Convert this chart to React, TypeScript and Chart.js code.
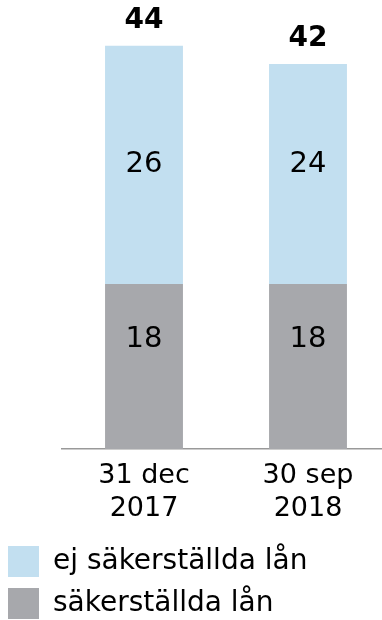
import React, { useEffect, useRef } from "react";
import { Chart, registerables } from "chart.js";

Chart.register(...registerables);

const categories: string[][] = [["31 dec", "2017"], ["30 sep", "2018"]];
const securedLabel = "säkerställda lån";
const unsecuredLabel = "ej säkerställda lån";
const securedValues = [18, 18];
const unsecuredValues = [26, 24];

const FONT = "'DejaVu Sans', Verdana, sans-serif";
const GRAY = "#a7a8ac";
const BLUE = "#c2dff0";

const labelPlugin = {
  id: "barLabels",
  afterDatasetsDraw(chart: any) {
    const ctx = chart.ctx;
    const yScale = chart.scales.y;
    const ds0 = chart.data.datasets[0].data as number[];
    const ds1 = chart.data.datasets[1].data as number[];
    const anchors = [
      Math.max(...ds0) * (2 / 3),
      Math.max(...ds0) + Math.max(...ds1) / 2,
    ];
    ctx.save();
    ctx.textAlign = "center";
    ctx.textBaseline = "middle";
    ctx.fillStyle = "#000";
    chart.data.datasets.forEach((ds: any, di: number) => {
      const meta = chart.getDatasetMeta(di);
      meta.data.forEach((el: any, i: number) => {
        const { x, y } = el.getProps(["x", "y"], true);
        ctx.font = `29px ${FONT}`;
        ctx.fillText(String(ds.data[i]), x, yScale.getPixelForValue(anchors[di]));
        if (di === chart.data.datasets.length - 1) {
          let total = 0;
          chart.data.datasets.forEach((d: any) => (total += d.data[i]));
          ctx.font = `bold 28px ${FONT}`;
          ctx.fillText(String(total), x, y - 25);
        }
      });
    });
    ctx.restore();
  },
};

export default function App() {
  const ref = useRef<HTMLCanvasElement | null>(null);
  useEffect(() => {
    if (!ref.current) return;
    const chart = new Chart(ref.current, {
      type: "bar",
      data: {
        labels: categories,
        datasets: [
          {
            label: securedLabel,
            data: securedValues,
            backgroundColor: GRAY,
            barPercentage: 0.95,
            categoryPercentage: 0.5,
          },
          {
            label: unsecuredLabel,
            data: unsecuredValues,
            backgroundColor: BLUE,
            barPercentage: 0.95,
            categoryPercentage: 0.5,
          },
        ],
      },
      options: {
        animation: false,
        responsive: false,
        devicePixelRatio: 1,
        layout: { padding: { top: 9, left: 0, right: 0, bottom: 0 } },
        plugins: {
          tooltip: { enabled: false },
          legend: {
            position: "bottom",
            align: "start",
            reverse: true,
            labels: {
              boxWidth: 31,
              boxHeight: 31,
              padding: 11,
              color: "#000",
              font: { family: FONT, size: 28 },
            },
          },
        },
        scales: {
          x: {
            stacked: true,
            grid: { display: false, drawTicks: false },
            border: { display: true, color: "#999", width: 1.5 },
            ticks: {
              color: "#000",
              padding: 10,
              font: { family: FONT, size: 27, lineHeight: 1.24 },
            },
            afterFit: (s: any) => {
              s.height = 86;
            },
          },
          y: {
            stacked: true,
            min: 0,
            max: 48,
            grid: { display: false },
            border: { display: false },
            ticks: { display: false },
            afterFit: (s: any) => {
              s.width = 65;
            },
          },
        },
      },
      plugins: [labelPlugin],
    });
    return () => chart.destroy();
  }, []);
  return (
    <div
      style={{
        position: "absolute",
        left: 0,
        top: 0,
        width: 382,
        height: 620,
        overflow: "hidden",
        background: "#fff",
      }}
    >
      <canvas
        ref={ref}
        width={393}
        height={629}
        style={{ position: "absolute", left: -3, top: 0, width: 393, height: 629 }}
      />
    </div>
  );
}
